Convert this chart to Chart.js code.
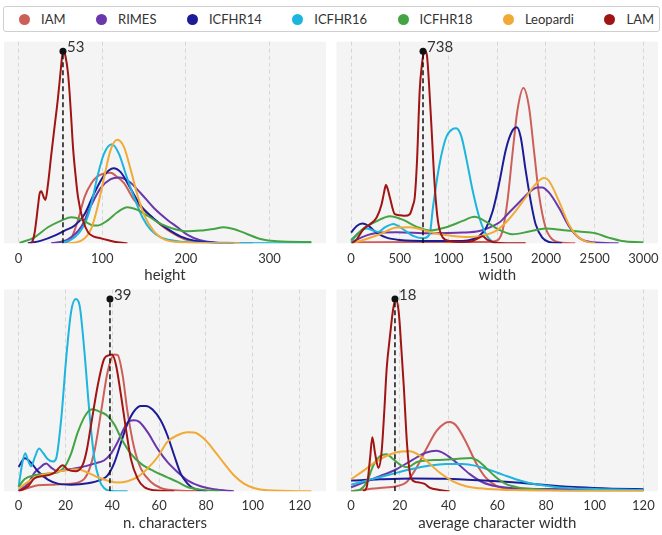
<!DOCTYPE html>
<html><head><meta charset="utf-8">
<script src="https://cdn.jsdelivr.net/npm/chart.js@4.4.1/dist/chart.umd.min.js"></script>
<style>
html,body{margin:0;padding:0;background:#fff;width:662px;height:535px;overflow:hidden;font-family:Lato,sans-serif;}
#legend{position:absolute;left:3px;top:6px;width:657px;height:26px;border:1px solid #cfcfcf;border-radius:3px;display:flex;align-items:center;padding-left:15px;box-sizing:border-box;background:#fff;}
.item{display:flex;align-items:center;margin-right:30.5px;font-size:13px;color:#333;white-space:nowrap;}
.dot{width:11px;height:11px;border-radius:50%;margin-right:11px;flex:none;}
canvas{position:absolute;}
</style>
</head><body>
<div id="legend"></div>
<canvas id="c1" width="331" height="254" style="left:0px;top:36px"></canvas>
<canvas id="c2" width="331" height="254" style="left:331px;top:36px"></canvas>
<canvas id="c3" width="331" height="251" style="left:0px;top:284px"></canvas>
<canvas id="c4" width="331" height="251" style="left:331px;top:284px"></canvas>
<script>
// ---------- series ----------
const seriesNames = ['IAM','RIMES','ICFHR14','ICFHR16','ICFHR18','Leopardi','LAM'];
const seriesColors = ['#cd5f58','#6a37ac','#1c1c99','#1bb5dd','#44a444','#f0aa35','#a01414'];

// ---------- panel titles / ticks ----------
const panelTitles = ['height','width','n. characters','average character width'];
const ticksHeight = [0,100,200,300];
const ticksWidth = [0,500,1000,1500,2000,2500,3000];
const ticksChars = [0,20,40,60,80,100,120];
const ticksAvgW = [0,20,40,60,80,100,120];

// ---------- marked LAM values (dashed line + dot) ----------
const markValues = [53, 738, 39, 18];
const markHeights = [575, 574, 576, 575];

// ---------- height densities [x, density] ----------
const height_IAM = [[55,0],[63,15],[71,70],[79,140],[87,180],[94,200],[102,209],[110,211],[118,198],[126,180],[138,130],[150,100],[166,63],[178,40],[198,13],[218,4],[260,1],[280,0]];
const height_RIMES = [[39,0],[59,12],[75,50],[87,115],[98,165],[110,192],[120,197],[132,185],[146,150],[162,105],[178,70],[190,48],[202,25],[217,9],[237,2],[257,0]];
const height_ICFHR14 = [[11,0],[27,8],[43,23],[55,38],[67,53],[79,88],[90,148],[102,203],[113.5,225],[122,213],[134,163],[146,113],[162,73],[178,43],[194,20],[210,8],[233,2],[257,0]];
const height_ICFHR16 = [[51,0],[67,18],[79,58],[87,118],[94,198],[102,268],[111.5,297],[120,268],[128,208],[138,138],[148,78],[158,40],[170,18],[186,8],[202,3],[237,1],[350,0]];
const height_ICFHR18 = [[1,1],[19,18],[35,48],[51,68],[63,78],[75,71],[87,55],[94,53],[106,68],[118,93],[130,108],[142,100],[154,83],[170,58],[186,43],[202,36],[217,38],[233,43],[245,48],[257,43],[273,28],[289,13],[309,6],[350,4]];
const height_Leopardi = [[59,0],[75,8],[87,45],[94,105],[102,195],[110,280],[118,310],[126,288],[134,220],[142,145],[150,85],[162,35],[174,12],[190,4],[217,1],[265,0]];
const height_LAM = [[14,0],[16,3],[19,30],[23,108],[25,148],[27,156],[30,138],[32,130],[35,175],[39,265],[43,350],[47,435],[50,510],[52,560],[54,575],[56,560],[59,510],[61,448],[63,370],[65,288],[68,205],[71,138],[77,68],[83,33],[90,20],[98,15],[106,10],[118,3],[130,0]];

// ---------- width densities ----------
const width_IAM = [[0,3],[700,4],[1400,4],[1486,7],[1554,37],[1605,127],[1656,267],[1707,397],[1769,464],[1826,407],[1877,277],[1928,147],[1996,47],[2064,12],[2166,2],[2300,0]];
const width_RIMES = [[0,2],[126,20],[296,32],[466,33],[806,30],[1146,32],[1316,37],[1418,47],[1520,62],[1622,92],[1724,122],[1826,152],[1911,167],[1962,167],[2030,152],[2132,107],[2234,52],[2337,17],[2473,3],[2745,0]];
const width_ICFHR14 = [[0,32],[58,52],[116,59],[177,52],[262,32],[364,17],[500,10],[806,7],[1146,7],[1248,12],[1316,22],[1384,45],[1452,95],[1520,180],[1588,280],[1656,337],[1701,347],[1741,317],[1792,217],[1843,127],[1894,57],[1962,17],[2030,4],[2166,0]];
const width_ICFHR16 = [[0,5],[60,25],[160,44],[230,38],[279,34],[350,48],[432,58],[534,42],[636,22],[738,15],[806,27],[840,107],[908,237],[976,317],[1044,342],[1078,344],[1129,322],[1180,257],[1248,157],[1316,77],[1384,27],[1452,4],[1486,0]];
const width_ICFHR18 = [[0,10],[126,44],[262,66],[398,81],[534,70],[670,50],[806,38],[976,48],[1146,67],[1265,79],[1384,65],[1520,40],[1656,27],[1826,35],[1996,44],[2166,40],[2337,35],[2507,30],[2643,17],[2779,7],[3000,3]];
const width_Leopardi = [[0,0],[126,10],[296,27],[466,47],[602,48],[738,40],[874,29],[1044,22],[1214,19],[1350,23],[1486,37],[1588,62],[1690,97],[1792,137],[1894,177],[1979,195],[2030,187],[2132,127],[2234,57],[2337,17],[2438,3],[2507,0]];
const width_LAM = [[7,0],[58,12],[126,42],[194,57],[262,77],[313,117],[337,150],[357,174],[378,160],[398,137],[449,87],[500,84],[551,82],[602,87],[636,115],[653,137],[677,250],[704,457],[725,530],[745,568],[762,574],[779,560],[799,480],[823,357],[857,177],[891,67],[942,17],[1010,7],[1146,4],[1248,7],[1299,14],[1350,21],[1401,10],[1486,2],[1792,0]];

// ---------- n. characters densities ----------
const chars_IAM = [[0,0],[4,10],[8.2,18],[15.3,20],[22.4,23],[28.1,38],[32.3,118],[35.2,238],[38,358],[40.9,410],[42.3,408],[44.4,348],[46.5,238],[49.4,128],[52.2,68],[56.5,28],[60.7,10],[66.4,3],[77.7,0]];
const chars_RIMES = [[0,2],[4,23],[6.8,56],[8.9,70],[11.8,83],[13.9,71],[16.7,60],[21,65],[26.7,72],[32.3,83],[36.6,93],[39.4,113],[42.3,148],[45.1,190],[47.2,210],[49.4,213],[51.5,208],[55,178],[59.3,128],[63.5,88],[67.8,58],[72.1,33],[77.7,15],[83.4,6],[91.9,0]];
const chars_ICFHR14 = [[0,73],[2.6,99],[5.4,85],[8.2,60],[12.5,35],[16.7,23],[22.4,20],[29.5,24],[35.2,35],[38,48],[40.9,86],[43.7,146],[46.5,203],[49.4,241],[52.2,256],[54.3,256],[57.2,245],[60.7,212],[63.5,168],[66.4,108],[69.2,53],[72.1,23],[74.9,8],[80.6,0]];
const chars_ICFHR16 = [[0,13],[1.4,78],[2.8,114],[4,93],[5.4,75],[6.8,100],[8.7,128],[10.4,115],[12.5,96],[14.6,89],[16,98],[18.2,218],[20.3,398],[22.4,538],[24.4,576],[26,558],[28.1,418],[30.2,238],[32.3,100],[34.5,33],[36.6,9],[38.7,2],[46.5,0]];
const chars_ICFHR18 = [[0,14],[2.6,37],[6.8,48],[12.5,53],[16.7,57],[19.6,73],[22.4,113],[25.2,176],[28.8,231],[31.6,246],[34.5,239],[38,226],[40.9,200],[43.7,160],[47.9,113],[52.2,83],[57.9,60],[63.5,42],[67.8,28],[72.1,13],[77.7,5],[86.2,0]];
const chars_Leopardi = [[0,8],[4,28],[8.2,45],[13.9,54],[19.6,62],[25.2,66],[29.5,56],[33.8,42],[38,32],[42.3,26],[46.5,30],[50.8,43],[55,68],[59.3,102],[63.5,148],[67.8,168],[72.1,177],[74.9,176],[79.1,158],[83.4,123],[87.8,83],[91.9,48],[96.2,23],[100.4,10],[106.1,3],[125,0]];
const chars_LAM = [[0,0],[4,15],[6.8,39],[11,46],[13.5,50],[15.3,56],[18.9,78],[21,65],[24.5,60],[27.4,80],[29,120],[30.9,198],[33.8,318],[36.6,398],[38.7,408],[39.9,410],[41.6,378],[43.7,288],[45.8,188],[47.9,98],[50.8,38],[53.6,13],[57.9,3],[66.4,0]];

// ---------- average character width densities ----------
const avgw_IAM = [[0,0],[5,5],[11.8,10],[18.6,15],[22.7,27],[26.8,70],[30.9,127],[35,180],[38.4,203],[40.4,207],[43.1,197],[47.2,147],[51.3,85],[55.4,40],[59.5,17],[64.9,6],[73,2],[120,0]];
const avgw_RIMES = [[0,12],[5,26],[11.8,45],[18.6,66],[25.4,95],[30.9,116],[35,121],[38.4,112],[43.1,87],[48.6,52],[54,27],[59.5,15],[67.6,9],[79.9,7],[120,5]];
const avgw_ICFHR14 = [[0,32],[11.8,36],[25.4,38.5],[39,37.5],[52.7,33],[66.3,27],[79.9,19],[93.5,12],[107.2,8],[120,6]];
const avgw_ICFHR16 = [[0,20],[7.8,35],[15.9,50],[24,65],[32.2,77],[39,82],[45.8,82],[51.3,76],[56.7,64],[62.2,50],[67.6,36],[73,25],[79.9,17],[86.7,11],[100.3,7],[120,4]];
const avgw_ICFHR18 = [[0,0],[3.7,5],[6.4,27],[9.1,77],[11.8,105],[14.6,111],[17.3,96],[20.7,77],[23.4,72],[26.8,87],[30.9,92],[36.3,94],[43.1,97],[49.3,100],[52,92],[55.4,70],[59.5,42],[63.5,22],[69,11],[75.8,6],[86.7,2],[120,0]];
const avgw_Leopardi = [[0,36],[5,61],[10.5,90],[15.9,110],[20.7,119],[24.1,120],[28.2,107],[32.2,83],[36.3,56],[41.8,30],[47.2,15],[52.7,9],[62.2,5],[73.1,3],[120,1]];
const avgw_LAM = [[5,0],[6.4,12],[7.8,100],[8.7,162],[9.8,115],[11.2,70],[12.5,117],[13.6,237],[14.6,367],[16,467],[17.3,547],[18.4,575],[19.4,545],[20,497],[21.6,317],[23,137],[24.4,45],[26.1,29],[28.2,26],[30.2,22],[32.2,11],[36.3,4],[40.4,0]];

const panelSeries = [
  [height_IAM,height_RIMES,height_ICFHR14,height_ICFHR16,height_ICFHR18,height_Leopardi,height_LAM],
  [width_IAM,width_RIMES,width_ICFHR14,width_ICFHR16,width_ICFHR18,width_Leopardi,width_LAM],
  [chars_IAM,chars_RIMES,chars_ICFHR14,chars_ICFHR16,chars_ICFHR18,chars_Leopardi,chars_LAM],
  [avgw_IAM,avgw_RIMES,avgw_ICFHR14,avgw_ICFHR16,avgw_ICFHR18,avgw_Leopardi,avgw_LAM]
];
const panelTicks = [ticksHeight, ticksWidth, ticksChars, ticksAvgW];

// ---------- legend ----------
const legend = document.getElementById('legend');
seriesNames.forEach((n,i)=>{
  const it = document.createElement('div'); it.className='item';
  const d = document.createElement('span'); d.className='dot'; d.style.background=seriesColors[i];
  const t = document.createElement('span'); t.textContent=n;
  it.appendChild(d); it.appendChild(t); legend.appendChild(it);
});

// ---------- layout config (not data) ----------
const layouts = [
  {id:'c1', xr:[-17.5,367.5], pad:{left:3,right:5,top:5.7,bottom:0}, axisH:46.7, tickPad:8, titlePadB:6},
  {id:'c2', xr:[-150,3150], pad:{left:5.5,right:3,top:5.7,bottom:0}, axisH:46.7, tickPad:8, titlePadB:6},
  {id:'c3', xr:[-6.25,131.25], pad:{left:3,right:5,top:5.5,bottom:0}, axisH:43.7, tickPad:7.2, titlePadB:3},
  {id:'c4', xr:[-6,126], pad:{left:5.5,right:3,top:5.5,bottom:0}, axisH:43.7, tickPad:7.2, titlePadB:3}
];

const bgPlugin = {
  id:'bg',
  beforeDraw(chart){
    const a = chart.chartArea, ctx = chart.ctx;
    ctx.save(); ctx.fillStyle='#f4f4f4';
    ctx.fillRect(a.left, a.top, a.right-a.left, a.bottom-a.top);
    ctx.restore();
  }
};
const markPlugin = {
  id:'mark',
  afterDraw(chart, args, opts){
    const xs = chart.scales.x, ys = chart.scales.y, ctx = chart.ctx;
    const px = xs.getPixelForValue(opts.value), py = ys.getPixelForValue(opts.height);
    ctx.save();
    ctx.font = '15px Lato'; ctx.fillStyle='#333'; ctx.textAlign='left'; ctx.textBaseline='alphabetic';
    ctx.fillText(String(opts.value), px+4, py+1);
    ctx.restore();
  }
};

function build(){
  Chart.defaults.font.family = 'Lato';
  layouts.forEach((L,p)=>{
    const datasets = panelSeries[p].map((arr,i)=>({
      label: seriesNames[i],
      data: arr.map(([x,y])=>({x,y})),
      borderColor: seriesColors[i],
      backgroundColor: seriesColors[i],
      borderWidth: 2,
      showLine: true,
      pointRadius: 0,
      cubicInterpolationMode: 'monotone',
      fill: false,
      order: 10 - i
    }));
    datasets.push({
      label:'mark-line',
      data:[{x:markValues[p],y:0},{x:markValues[p],y:markHeights[p]}],
      borderColor:'#111', borderWidth:1.5, borderDash:[5,3], showLine:true, pointRadius:0, order:1
    });
    datasets.push({
      label:'mark-dot',
      data:[{x:markValues[p],y:markHeights[p]}],
      borderColor:'#111', backgroundColor:'#111', pointRadius:3.5, pointBorderWidth:0, showLine:false, order:0
    });
    const tv = panelTicks[p];
    new Chart(document.getElementById(L.id), {
      type:'scatter',
      data:{datasets},
      plugins:[bgPlugin, markPlugin],
      options:{
        responsive:false, animation:false, devicePixelRatio:1,
        layout:{padding:L.pad},
        plugins:{legend:{display:false}, tooltip:{enabled:false}, mark:{value:markValues[p], height:markHeights[p]}},
        scales:{
          x:{
            type:'linear', min:L.xr[0], max:L.xr[1],
            afterBuildTicks:(s)=>{ s.ticks = tv.map(v=>({value:v})); },
            afterFit:(s)=>{ s.height = L.axisH; s.paddingLeft = 0; s.paddingRight = 0; },
            ticks:{autoSkip:false, maxRotation:0, padding:L.tickPad, color:'#333', font:{size:13, family:'Lato'}, callback:(v)=>String(v)},
            grid:{color:'#d6d6d6', lineWidth:1, drawTicks:false},
            border:{display:false, dash:[4,3]},
            title:{display:true, text:panelTitles[p], color:'#333', font:{size:15, family:'Lato'}, padding:{top:0,bottom:L.titlePadB}}
          },
          y:{display:false, min:0, max:markHeights[p]*1.05}
        }
      }
    });
  });
}
if (document.fonts && document.fonts.load) {
  document.fonts.load('13px Lato').then(build, build);
} else { build(); }
</script>
</body></html>
